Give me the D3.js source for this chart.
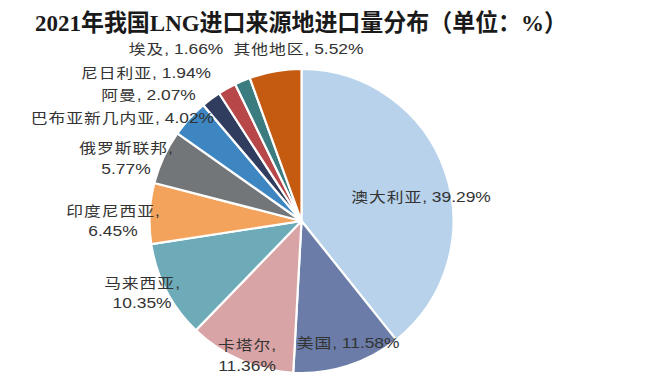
<!DOCTYPE html>
<html>
<head>
<meta charset="utf-8">
<script src="https://cdn.jsdelivr.net/npm/d3@7"></script>
<style>
  html, body { margin: 0; padding: 0; background: #ffffff; }
  svg { display: block; }
</style>
</head>
<body>
<div id="chart"></div>
<script>
// ---- data ----
const title = "2021年我国LNG进口来源地进口量分布（单位：%）";
const categories = ["澳大利亚", "美国", "卡塔尔", "马来西亚", "印度尼西亚", "俄罗斯联邦", "巴布亚新几内亚", "阿曼", "尼日利亚", "埃及", "其他地区"];
const shares = [39.29, 11.58, 11.36, 10.35, 6.45, 5.77, 4.02, 2.07, 1.94, 1.66, 5.52];

// ---- styling / layout ----
const colors = ["#b7d2ea", "#6b7ca8", "#d8a4a5", "#6eabb9", "#f3a35b", "#737678", "#3d86c2", "#303d5e", "#b84749", "#3b7c80", "#c55a11"];
const labelAngle = [78.6, 159.1, 202.1, 245.7, 270, 289.6, 299.9, 309.5, 313.6, 323.9, 359];
const labelRadius = [0.802, 0.859, 0.952, 1.151, 1.240, 1.226, 1.359, 1.304, 1.412, 1.401, 1.132];
const labelLines = [1, 1, 2, 2, 2, 2, 1, 1, 1, 1, 1];

const W = 653, H = 379;
const cx = 301.5, cy = 221, R = 152;

const svg = d3.select("#chart").append("svg").attr("width", W).attr("height", H);

svg.append("text")
  .attr("x", 35).attr("y", 31)
  .attr("textLength", 532).attr("lengthAdjust", "spacingAndGlyphs")
  .style("font-family", "'Liberation Serif', 'Noto Sans CJK SC', serif")
  .style("font-weight", "bold")
  .style("font-size", "24px")
  .style("fill", "#1a1a1a")
  .text(title);

const pie = d3.pie().sort(null).value(d => d).startAngle(0).endAngle(2 * Math.PI);
const arc = d3.arc().innerRadius(0).outerRadius(R);
const arcs = pie(shares);

const g = svg.append("g").attr("transform", `translate(${cx},${cy})`);
g.selectAll("path.slice").data(arcs).enter().append("path")
  .attr("class", "slice")
  .attr("d", arc)
  .attr("fill", (d, i) => colors[i])
  .attr("stroke", "#ffffff")
  .attr("stroke-width", 2.2)
  .attr("stroke-linejoin", "round");

const cjkStyle = s => s.style("font-family", "'Noto Sans CJK SC', sans-serif").style("font-size", "14px").style("letter-spacing", "0.8px");
const latStyle = s => s.style("font-family", "'Liberation Sans', Arial, sans-serif").style("font-size", "14.5px").style("letter-spacing", "0px");

const labels = g.selectAll("text.lbl").data(arcs).enter().append("text")
  .attr("class", "lbl")
  .attr("text-anchor", "middle")
  .style("fill", "#333333")
  .attr("transform", (d, i) => {
    const a = labelAngle[i] * Math.PI / 180;
    const r = labelRadius[i] * R;
    return `translate(${r * Math.sin(a)},${-r * Math.cos(a)}) scale(1.2,1)`;
  });

labels.each(function (d, i) {
  const t = d3.select(this);
  const val = d3.format(".2f")(shares[i]) + "%";
  if (labelLines[i] === 1) {
    t.attr("x", 0).attr("y", 5);
    t.append("tspan").text(categories[i]).call(cjkStyle);
    t.append("tspan").text(", " + val).call(latStyle);
  } else {
    t.append("tspan").attr("x", 0).attr("y", -10.5 + 5).text(categories[i]).call(cjkStyle);
    t.append("tspan").text(",").call(latStyle);
    t.append("tspan").attr("x", 0).attr("y", 10.5 + 5).text(val).call(latStyle);
  }
});
</script>
</body>
</html>
